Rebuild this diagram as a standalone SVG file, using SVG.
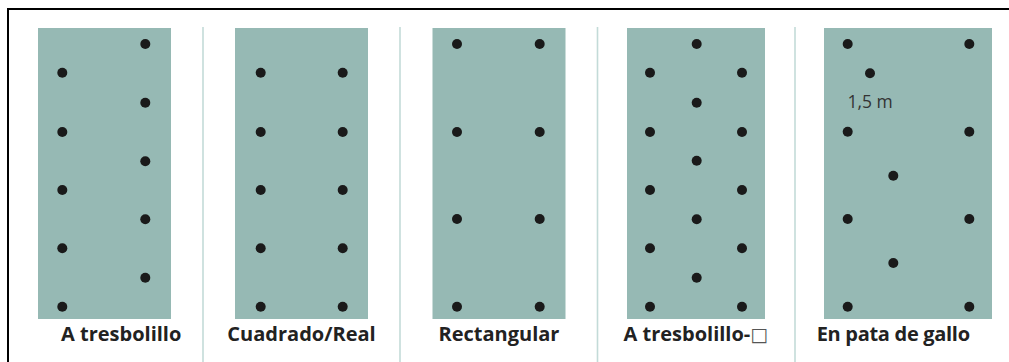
<svg xmlns="http://www.w3.org/2000/svg" width="1009" height="362" viewBox="0 0 1009 362">
<style>
.panel{fill:#96b9b4}
.div{stroke:#c3dbd8;stroke-width:1.6}
.frame{stroke:#000;stroke-width:2;fill:none}
.dot{fill:#1a1a1a}
.lbl{font-family:"Open Sans","Liberation Sans",sans-serif;font-weight:700;font-size:20px;fill:#222}
.box{font-family:"DejaVu Sans",sans-serif;font-weight:400;font-size:19px;fill:#555}
.dim{font-family:"Open Sans","Liberation Sans",sans-serif;font-size:17.5px;fill:#333}
</style>
<defs>
<circle id="d" r="5" class="dot"/>
</defs>
<rect width="1009" height="362" fill="#fff"/>
<g id="frame">
<path class="frame" d="M8,363 V9 H1010"/>
</g>
<g id="connectors">
<line class="div" x1="203" y1="27" x2="203" y2="362"/>
<line class="div" x1="400" y1="27" x2="400" y2="362"/>
<line class="div" x1="597.5" y1="27" x2="597.5" y2="362"/>
<line class="div" x1="795" y1="27" x2="795" y2="362"/>
</g>
<g id="tresbolillo">
<rect class="panel" x="38" y="28" width="133" height="291"/>
<use href="#d" x="145.3" y="44"/><use href="#d" x="145.3" y="102.7"/><use href="#d" x="145.3" y="161.3"/><use href="#d" x="145.3" y="219.3"/><use href="#d" x="145.3" y="277.7"/>
<use href="#d" x="62.3" y="72.7"/><use href="#d" x="62.3" y="132"/><use href="#d" x="62.3" y="190"/><use href="#d" x="62.3" y="248.3"/><use href="#d" x="62.3" y="306.7"/>
<text class="lbl" x="61" y="341">A tresbolillo</text>
</g>
<g id="cuadrado">
<rect class="panel" x="235" y="28" width="133" height="291"/>
<use href="#d" x="260.7" y="72.7"/><use href="#d" x="260.7" y="132"/><use href="#d" x="260.7" y="190"/><use href="#d" x="260.7" y="248.3"/><use href="#d" x="260.7" y="306.7"/>
<use href="#d" x="342.7" y="72.7"/><use href="#d" x="342.7" y="132"/><use href="#d" x="342.7" y="190"/><use href="#d" x="342.7" y="248.3"/><use href="#d" x="342.7" y="306.7"/>
<text class="lbl" x="301.5" y="341" text-anchor="middle">Cuadrado/Real</text>
</g>
<g id="rectangular">
<rect class="panel" x="432.5" y="28" width="133" height="291"/>
<use href="#d" x="457" y="44"/><use href="#d" x="457" y="132"/><use href="#d" x="457" y="219"/><use href="#d" x="457" y="306.7"/>
<use href="#d" x="539.7" y="44"/><use href="#d" x="539.7" y="132"/><use href="#d" x="539.7" y="219"/><use href="#d" x="539.7" y="306.7"/>
<text class="lbl" x="499" y="341" text-anchor="middle">Rectangular</text>
</g>
<g id="tresbolillo2">
<rect class="panel" x="627" y="28" width="138" height="291"/>
<use href="#d" x="650" y="72.7"/><use href="#d" x="650" y="132"/><use href="#d" x="650" y="190"/><use href="#d" x="650" y="248.3"/><use href="#d" x="650" y="306.7"/>
<use href="#d" x="696.7" y="44"/><use href="#d" x="696.7" y="102.7"/><use href="#d" x="696.7" y="160.7"/><use href="#d" x="696.7" y="219.3"/><use href="#d" x="696.7" y="277.7"/>
<use href="#d" x="742" y="72.7"/><use href="#d" x="742" y="132"/><use href="#d" x="742" y="190"/><use href="#d" x="742" y="248.3"/><use href="#d" x="742" y="306.7"/>
<text class="lbl" x="623.5" y="341">A tresbolillo-<tspan class="box">□</tspan></text>
</g>
<g id="pata-de-gallo">
<rect class="panel" x="824" y="28" width="168" height="291"/>
<use href="#d" x="847.7" y="44"/><use href="#d" x="847.7" y="131.7"/><use href="#d" x="847.7" y="219"/><use href="#d" x="847.7" y="306.7"/>
<use href="#d" x="969.3" y="44"/><use href="#d" x="969.3" y="131.7"/><use href="#d" x="969.3" y="219"/><use href="#d" x="969.3" y="306.7"/>
<use href="#d" x="870" y="73.3"/><use href="#d" x="893.3" y="175.7"/><use href="#d" x="893.3" y="263"/>
<text class="dim" x="847.5" y="108.3">1,5 m</text>
<text class="lbl" x="816.7" y="341" letter-spacing="-0.3">En pata de gallo</text>
</g>
</svg>
